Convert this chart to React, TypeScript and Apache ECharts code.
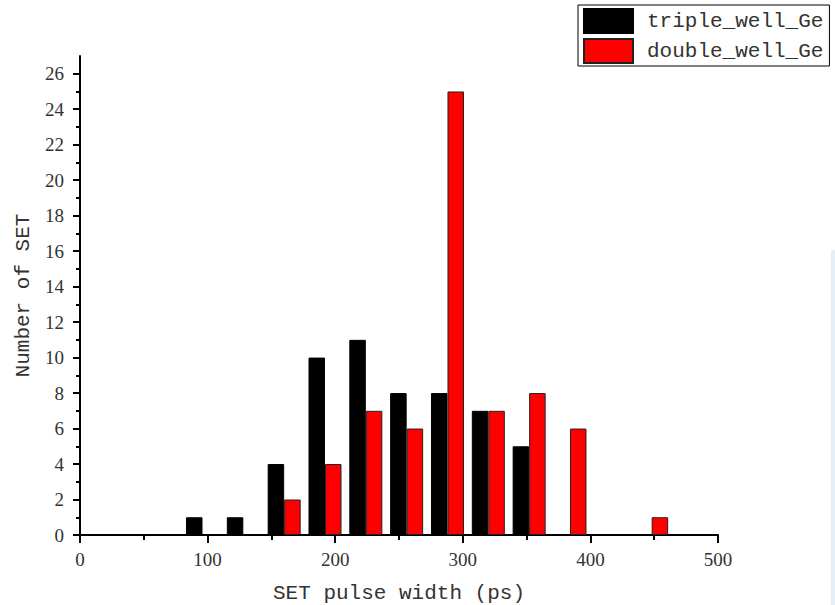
import React, { useEffect, useRef } from "react";
import * as echarts from "echarts";

const binCenters = [96, 128, 160, 192, 224, 256, 288, 320, 352, 384, 416, 448];
const tripleWell = [1, 1, 4, 10, 11, 8, 8, 7, 5, 0, 0, 0];
const doubleWell = [0, 0, 2, 4, 7, 6, 25, 7, 8, 6, 0, 1];
const yMajorTicks = [0, 2, 4, 6, 8, 10, 12, 14, 16, 18, 20, 22, 24, 26];
const yMinorTicks = [1, 3, 5, 7, 9, 11, 13, 15, 17, 19, 21, 23, 25];
const seriesNames = ["triple_well_Ge", "double_well_Ge"];

export default function App() {
  const ref = useRef<HTMLDivElement>(null);
  useEffect(() => {
    if (!ref.current) return;
    const chart = echarts.init(ref.current, undefined, { renderer: "svg" });
    const serif = "Liberation Serif";
    const mono = "Liberation Mono";
    const pairs = (vals: number[]) =>
      binCenters.map((c, i) => [c, vals[i]]).filter((p) => p[1] > 0);
    chart.setOption({
      animation: false,
      backgroundColor: "#ffffff",
      grid: { left: 80, right: 117, top: 56, bottom: 70, containLabel: false, outerBoundsMode: "none" },
      legend: {
        orient: "vertical",
        left: 578,
        top: 5,
        itemWidth: 49,
        itemHeight: 24,
        itemGap: 4,
        icon: "rect",
        padding: [3, 6, 2, 5],
        borderColor: "#000",
        borderWidth: 1,
        textStyle: { fontFamily: mono, fontSize: 21, color: "#333", padding: [0, 0, 0, 9] },
        data: seriesNames,
      },
      xAxis: {
        type: "value",
        min: 0,
        max: 500,
        interval: 100,
        name: "SET pulse width (ps)",
        nameLocation: "middle",
        nameGap: 48,
        nameTextStyle: { fontFamily: mono, fontSize: 21, color: "#333" },
        axisLine: { show: true, lineStyle: { color: "#000", width: 2 } },
        axisTick: { show: true, length: 8, lineStyle: { color: "#000", width: 2 } },
        minorTick: { show: true, splitNumber: 2, length: 5, lineStyle: { color: "#000", width: 2 } },
        axisLabel: { fontFamily: serif, fontSize: 19, color: "#333", margin: 15 },
        splitLine: { show: false },
      },
      yAxis: [
        {
          type: "value",
          min: 0,
          max: 27,
          name: "Number of SET",
          nameLocation: "middle",
          nameGap: 41,
          nameTextStyle: { fontFamily: mono, fontSize: 21, color: "#333" },
          axisLine: { show: true, lineStyle: { color: "#000", width: 2 } },
          axisTick: { show: true, length: 7, customValues: yMajorTicks, lineStyle: { color: "#000", width: 2 } },
          axisLabel: { fontFamily: serif, fontSize: 19, color: "#333", margin: 16, customValues: yMajorTicks },
          splitLine: { show: false },
        },
        {
          type: "value",
          min: 0,
          max: 27,
          position: "left",
          axisLine: { show: false },
          axisTick: { show: true, length: 4, customValues: yMinorTicks, lineStyle: { color: "#000", width: 2 } },
          axisLabel: { show: false },
          splitLine: { show: false },
        },
      ],
      series: [
        {
          name: seriesNames[0],
          type: "bar",
          data: pairs(tripleWell),
          barWidth: 16.5,
          barGap: "0%",
          itemStyle: { color: "#000000", borderColor: "#000", borderWidth: 1 },
        },
        {
          name: seriesNames[1],
          type: "bar",
          data: pairs(doubleWell),
          barWidth: 16.5,
          barGap: "0%",
          itemStyle: { color: "#ff0000", borderColor: "#222", borderWidth: 1 },
        },
      ],
      graphic: [
        {
          type: "rect",
          shape: { x: 831, y: 250, width: 4, height: 355 },
          style: { fill: "#e6eff8" },
          silent: true,
        },
      ],
    });
    return () => chart.dispose();
  }, []);
  return (
    <div
      ref={ref}
      style={{ position: "fixed", left: 0, top: 0, width: 835, height: 605, background: "#fff" }}
    />
  );
}
